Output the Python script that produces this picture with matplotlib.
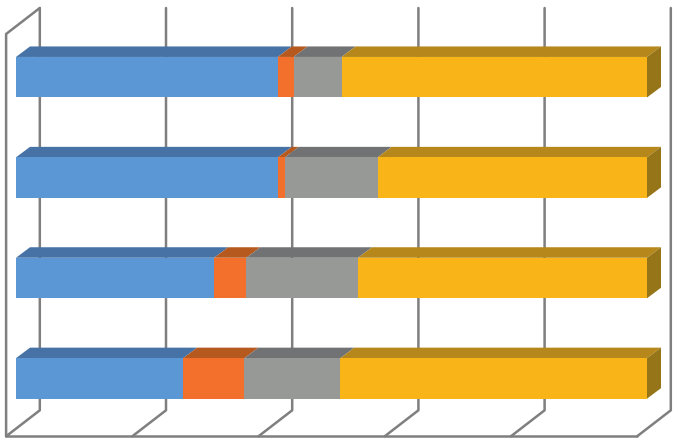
import matplotlib
matplotlib.use("Agg")
import matplotlib.pyplot as plt
import numpy as np
from matplotlib.patches import Polygon

categories = ["D", "C", "B", "A"]  # bottom to top
blue = [26.5, 31.4, 41.5, 41.5]
orange = [9.7, 5.1, 1.1, 2.5]
gray = [15.2, 17.7, 14.7, 7.6]
yellow = [48.6, 45.8, 42.7, 48.4]
ticks = [0, 20, 40, 60, 80, 100]

series = [blue, orange, gray, yellow]
front_cols = ["#5B97D5", "#F2702B", "#979997", "#F9B518"]
top_cols = ["#4672A5", "#B5591F", "#717274", "#B6871A"]
side_cols = ["#3F6690", "#A04E1C", "#626364", "#967518"]

W, H = 680, 441
fig = plt.figure(figsize=(W / 100, H / 100), dpi=100, facecolor="white")
ax = fig.add_axes([0, 0, 1, 1])

PXX = 6.31    # px per percent
PXY = 100.4   # px per category
X0, Y0 = 16.0, 378.4   # pixel of value 0 / first category centre
ax.set_xlim(-X0 / PXX, (W - X0) / PXX)
ax.set_ylim(-(H - Y0) / PXY, Y0 / PXY)
ax.axis("off")

def dxp(p):
    return p / PXX

def yp(p):
    return (Y0 - p) / PXY

# walls and gridlines
line = dict(color="#7F7F7F", lw=1.8, solid_capstyle="round", solid_joinstyle="round", zorder=1)
wall_off, depth_x = -9.9, 33.7
for t in ticks:
    xf = t + dxp(wall_off)
    xb = xf + dxp(depth_x)
    ax.plot([xf, xb, xb], [yp(436.3), yp(410.3), yp(8)], **line)
xf0 = ticks[0] + dxp(wall_off)
ax.plot([xf0, xf0, xf0 + dxp(depth_x)], [yp(436.3), yp(34), yp(8)], **line)
xf1 = ticks[-1] + dxp(wall_off)
ax.plot([xf0, xf1], [yp(436.3), yp(436.3)], **line)

# stacked bars with 3-D faces
bar_h = 40.5 / PXY
ddx, ddy = dxp(14), 10.5 / PXY
pos = np.arange(len(categories))
left = np.zeros(len(categories))
for vals, fc, tc, sc in zip(series, front_cols, top_cols, side_cols):
    vals = np.array(vals)
    ax.barh(pos, vals, left=left, height=bar_h, color=fc, linewidth=0, zorder=3)
    for y, l, v in zip(pos, left, vals):
        t = y + bar_h / 2
        ax.add_patch(Polygon([(l, t), (l + v, t), (l + v + ddx, t + ddy), (l + ddx, t + ddy)],
                             closed=True, facecolor=tc, edgecolor="none", zorder=2))
    left = left + vals
for y, r in zip(pos, left):
    t, b = y + bar_h / 2, y - bar_h / 2
    ax.add_patch(Polygon([(r, b), (r, t), (r + ddx, t + ddy), (r + ddx, b + ddy)],
                         closed=True, facecolor=side_cols[-1], edgecolor="none", zorder=2))

fig.savefig("out.png", dpi=100, facecolor="white")
